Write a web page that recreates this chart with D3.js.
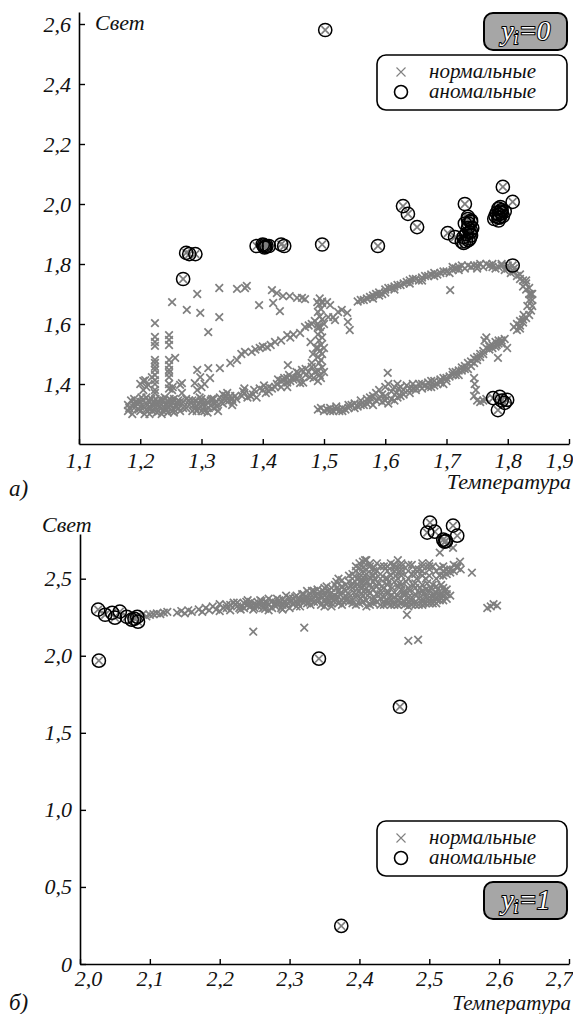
<!DOCTYPE html>
<html>
<head>
<meta charset="utf-8">
<script src="https://cdn.jsdelivr.net/npm/d3@7"></script>
<style>
  body { margin: 0; background: #fff; }
</style>
</head>
<body>
<script>
// --- panel a) : yi = 0 ---
// normal points (Температура, Свет)
const normalA = [
  // bottom-left band
  [1.18,1.33],[1.18,1.31],[1.185,1.345],[1.19,1.32],[1.19,1.35],[1.195,1.335],[1.20,1.31],[1.20,1.34],[1.205,1.325],[1.21,1.355],
  [1.21,1.315],[1.215,1.34],[1.22,1.31],[1.22,1.33],[1.225,1.35],[1.225,1.32],[1.23,1.34],[1.23,1.31],[1.235,1.33],[1.24,1.355],
  [1.24,1.32],[1.245,1.305],[1.245,1.34],[1.25,1.33],[1.255,1.315],[1.255,1.35],[1.26,1.335],[1.265,1.31],[1.27,1.34],[1.27,1.32],
  [1.275,1.35],[1.28,1.33],[1.285,1.31],[1.29,1.345],[1.29,1.32],[1.295,1.335],[1.30,1.31],[1.30,1.35],[1.305,1.325],[1.31,1.34],
  [1.31,1.305],[1.315,1.33],[1.32,1.35],[1.32,1.32],[1.325,1.34],[1.33,1.355],[1.335,1.365],[1.34,1.36],[1.345,1.345],[1.35,1.33],
  [1.35,1.35],[1.355,1.36],[1.20,1.40],[1.205,1.41],[1.21,1.39],[1.265,1.397],[1.268,1.37],[1.252,1.38],
  [1.182,1.32],[1.187,1.30],[1.192,1.34],[1.197,1.315],[1.202,1.355],[1.207,1.30],[1.212,1.33],[1.217,1.32],[1.218,1.35],[1.222,1.34],
  [1.227,1.305],[1.228,1.335],[1.232,1.325],[1.233,1.35],[1.237,1.31],[1.238,1.345],[1.242,1.33],[1.247,1.32],[1.248,1.35],[1.252,1.31],
  [1.253,1.34],[1.258,1.325],[1.262,1.345],[1.263,1.32],[1.287,1.33],[1.292,1.31],[1.297,1.355],[1.302,1.33],[1.307,1.345],[1.312,1.32],
  [1.317,1.35],[1.322,1.335],[1.327,1.31],[1.332,1.34],[1.337,1.35],[1.342,1.37],[1.347,1.36],[1.352,1.34],[1.357,1.35],[1.215,1.30],
  [1.235,1.30],[1.20,1.325],[1.28,1.345],[1.30,1.34],[1.25,1.345],[1.213,1.345],[1.243,1.315],[1.223,1.315],
  [1.19,1.33],[1.205,1.345],[1.215,1.315],[1.225,1.335],[1.235,1.345],[1.245,1.325],[1.255,1.305],[1.265,1.34],[1.275,1.32],[1.285,1.345],
  [1.295,1.32],[1.305,1.31],[1.315,1.345],[1.325,1.325],[1.335,1.335],[1.34,1.345],
  // left columns
  [1.224,1.603],[1.224,1.557],[1.224,1.54],[1.224,1.527],[1.224,1.48],[1.224,1.47],[1.224,1.457],[1.224,1.447],[1.224,1.43],[1.224,1.413],
  [1.224,1.40],[1.224,1.38],[1.224,1.37],
  [1.247,1.563],[1.247,1.547],[1.247,1.53],[1.247,1.48],[1.247,1.463],[1.247,1.447],[1.247,1.437],[1.247,1.423],[1.247,1.40],[1.247,1.385],
  [1.257,1.487],[1.253,1.39],[1.268,1.403],[1.208,1.413],[1.213,1.397],[1.205,1.38],[1.219,1.423],
  [1.293,1.447],[1.298,1.423],[1.311,1.453],[1.314,1.42],[1.289,1.403],[1.293,1.38],[1.30,1.39],[1.305,1.40],
  // scattered upper points
  [1.252,1.673],[1.293,1.70],[1.276,1.647],[1.298,1.637],[1.311,1.573],[1.329,1.72],[1.329,1.623],[1.358,1.717],[1.371,1.72],[1.374,1.727],
  [1.394,1.663],[1.415,1.713],[1.423,1.703],[1.417,1.67],[1.428,1.643],[1.433,1.693],[1.444,1.693],[1.456,1.687],[1.464,1.687],[1.469,1.683],
  [1.489,1.673],[1.497,1.67],
  // middle diagonal
  [1.33,1.453],[1.347,1.47],[1.358,1.48],[1.365,1.50],[1.371,1.507],[1.382,1.507],[1.388,1.515],[1.395,1.52],[1.40,1.525],[1.407,1.523],
  [1.413,1.53],[1.42,1.54],[1.43,1.545],[1.44,1.563],[1.445,1.555],[1.45,1.565],[1.461,1.57],[1.469,1.59],[1.475,1.595],[1.48,1.60],
  [1.485,1.61],[1.49,1.59],
  // lower rising line
  [1.366,1.36],[1.368,1.375],[1.37,1.385],[1.375,1.355],[1.384,1.365],[1.386,1.38],[1.39,1.355],[1.40,1.38],[1.402,1.395],[1.405,1.37],
  [1.41,1.39],[1.415,1.385],[1.423,1.40],[1.425,1.415],[1.43,1.39],[1.435,1.42],[1.44,1.405],[1.443,1.43],[1.45,1.415],[1.455,1.44],
  [1.46,1.425],[1.464,1.447],[1.47,1.43],[1.47,1.45],[1.475,1.44],[1.48,1.457],[1.477,1.423],[1.466,1.405],[1.433,1.413],[1.441,1.463],
  [1.449,1.423],[1.458,1.437],[1.461,1.403],[1.44,1.39],
  [1.37,1.37],[1.38,1.36],[1.395,1.385],[1.41,1.375],[1.42,1.39],[1.43,1.41],[1.44,1.42],[1.445,1.41],[1.455,1.42],
  // vertical column near 1.49
  [1.49,1.41],[1.495,1.42],[1.493,1.43],[1.49,1.445],[1.497,1.455],[1.492,1.47],[1.495,1.48],[1.49,1.49],[1.497,1.50],[1.493,1.51],
  [1.49,1.52],[1.495,1.53],[1.492,1.545],[1.497,1.555],[1.49,1.565],[1.495,1.575],[1.493,1.59],[1.49,1.60],[1.497,1.615],[1.493,1.625],
  [1.49,1.64],[1.495,1.65],[1.492,1.665],[1.497,1.675],[1.493,1.685],[1.50,1.44],[1.50,1.52],[1.50,1.60],
  [1.478,1.54],[1.482,1.50],[1.48,1.47],[1.485,1.44],[1.483,1.42],[1.487,1.52],
  [1.505,1.673],[1.51,1.663],[1.515,1.623],[1.523,1.64],[1.529,1.647],[1.538,1.637],[1.539,1.607],[1.542,1.58],[1.507,1.623],[1.518,1.613],
  // lower band of loop
  [1.49,1.315],[1.495,1.32],[1.50,1.31],[1.505,1.315],[1.51,1.32],[1.515,1.31],[1.52,1.315],[1.525,1.31],[1.53,1.32],[1.535,1.315],
  [1.54,1.32],[1.545,1.33],[1.55,1.335],[1.555,1.325],[1.56,1.345],[1.565,1.33],[1.57,1.35],[1.575,1.34],[1.58,1.36],[1.58,1.33],
  [1.585,1.37],[1.59,1.35],[1.59,1.38],[1.595,1.34],[1.60,1.39],[1.60,1.36],[1.605,1.40],[1.605,1.335],[1.61,1.35],[1.604,1.437],
  [1.615,1.345],[1.618,1.37],[1.62,1.40],[1.622,1.385],[1.625,1.36],[1.63,1.38],[1.635,1.395],[1.64,1.37],[1.645,1.385],
  [1.65,1.39],[1.655,1.40],[1.66,1.385],[1.665,1.395],[1.67,1.405],[1.675,1.39],[1.68,1.41],[1.685,1.40],[1.69,1.415],[1.695,1.42],
  [1.70,1.41],[1.705,1.425],
  [1.71,1.43],[1.715,1.44],[1.72,1.445],[1.725,1.455],[1.73,1.46],[1.735,1.47],[1.74,1.475],[1.745,1.485],[1.75,1.49],[1.755,1.50],
  [1.72,1.43],[1.74,1.46],[1.735,1.45],
  [1.76,1.51],[1.765,1.52],[1.77,1.525],[1.775,1.53],[1.78,1.54],[1.785,1.535],[1.79,1.545],[1.795,1.55],[1.762,1.545],[1.765,1.555],
  [1.78,1.525],[1.782,1.53],[1.799,1.52],[1.784,1.487],
  [1.745,1.42],[1.746,1.40],[1.748,1.38],[1.745,1.36],[1.75,1.345],[1.755,1.34],[1.76,1.345],[1.765,1.35],
  [1.51,1.31],[1.52,1.325],[1.53,1.31],[1.54,1.33],[1.55,1.32],[1.56,1.33],[1.57,1.335],[1.575,1.355],[1.585,1.345],[1.595,1.365],
  [1.60,1.345],[1.61,1.375],[1.615,1.39],[1.62,1.355],[1.625,1.39],[1.63,1.365],[1.64,1.385],[1.645,1.40],[1.65,1.38],[1.66,1.40],
  [1.67,1.39],[1.675,1.41],[1.68,1.395],[1.69,1.405],[1.695,1.40],[1.70,1.42],[1.71,1.44],[1.715,1.43],[1.725,1.445],[1.73,1.45],
  [1.745,1.47],[1.75,1.48],[1.755,1.49],[1.76,1.50],[1.77,1.515],[1.775,1.52],[1.785,1.545],[1.79,1.535],
  // upper band of loop
  [1.555,1.675],[1.56,1.68],[1.57,1.685],[1.575,1.69],[1.58,1.695],[1.585,1.70],[1.59,1.705],[1.595,1.70],[1.60,1.715],[1.605,1.72],
  [1.61,1.72],[1.615,1.725],[1.62,1.73],[1.63,1.735],[1.635,1.74],[1.64,1.745],[1.65,1.75],[1.655,1.745],[1.66,1.755],[1.67,1.76],
  [1.675,1.765],[1.68,1.76],[1.69,1.77],[1.70,1.775],[1.706,1.713],
  [1.71,1.78],[1.715,1.785],[1.72,1.79],[1.73,1.785],[1.735,1.795],[1.74,1.79],[1.75,1.795],[1.755,1.80],[1.76,1.79],[1.77,1.795],
  [1.775,1.80],[1.78,1.785],[1.785,1.79],[1.79,1.795],[1.795,1.78],[1.80,1.785],[1.805,1.77],[1.81,1.775],
  [1.815,1.76],[1.82,1.75],[1.825,1.745],[1.83,1.735],[1.835,1.72],[1.838,1.70],[1.84,1.68],[1.84,1.66],[1.838,1.645],[1.835,1.63],
  [1.83,1.62],[1.826,1.63],[1.82,1.61],[1.815,1.60],[1.81,1.59],[1.815,1.58],[1.82,1.595],[1.825,1.605],[1.83,1.715],[1.825,1.725],
  [1.565,1.68],[1.58,1.685],[1.59,1.695],[1.60,1.705],[1.615,1.715],[1.625,1.73],[1.64,1.735],[1.645,1.75],[1.66,1.745],[1.665,1.76],
  [1.68,1.77],[1.685,1.765],[1.695,1.775],[1.705,1.77],[1.71,1.79],[1.72,1.78],[1.725,1.795],[1.745,1.795],[1.75,1.785],[1.765,1.80],
  [1.775,1.79],[1.79,1.80],[1.80,1.795],[1.81,1.785],[1.82,1.765],[1.83,1.745],[1.835,1.70],[1.835,1.68],[1.84,1.70],[1.832,1.66],
  [1.825,1.615],[1.82,1.585]
];
// anomalous points
const anomalA = [
  [1.27,1.75],[1.275,1.837],[1.28,1.833],[1.29,1.833],[1.39,1.86],[1.40,1.865],[1.403,1.855],[1.402,1.862],[1.404,1.858],[1.406,1.86],
  [1.41,1.86],[1.43,1.865],[1.435,1.86],[1.497,1.865],[1.588,1.86],[1.502,2.58],[1.629,1.993],[1.637,1.967],[1.652,1.923],[1.702,1.903],
  [1.714,1.89],[1.73,2.0],[1.735,1.957],[1.73,1.935],[1.735,1.92],[1.74,1.91],[1.732,1.90],[1.738,1.885],[1.728,1.89],[1.74,1.94],
  [1.728,1.87],[1.732,1.875],[1.736,1.88],[1.74,1.895],[1.738,1.905],[1.742,1.92],[1.736,1.935],[1.74,1.945],[1.735,1.95],[1.725,1.875],
  [1.792,2.057],[1.808,2.007],[1.78,1.96],[1.785,1.965],[1.788,1.975],[1.79,1.98],[1.785,1.955],[1.782,1.97],[1.778,1.95],[1.785,1.985],
  [1.788,1.99],[1.79,1.97],[1.792,1.96],[1.785,1.945],[1.795,1.975],[1.787,1.955],
  [1.808,1.795],[1.776,1.353],[1.787,1.357],[1.799,1.347],[1.784,1.313],[1.795,1.337],[1.79,1.345]
];

// --- panel б) : yi = 1 ---
const normalB = [
  [2.09,2.27],[2.095,2.255],[2.10,2.265],[2.105,2.27],[2.11,2.275],[2.115,2.27],[2.12,2.28],[2.125,2.285],[2.139,2.28],[2.145,2.29],
  [2.15,2.275],[2.155,2.295],[2.16,2.285],
  [2.17,2.30],[2.175,2.285],[2.18,2.31],[2.185,2.295],[2.19,2.32],[2.195,2.30],[2.20,2.335],[2.20,2.29],
  [2.205,2.31],[2.21,2.33],[2.215,2.295],[2.22,2.345],[2.225,2.32],[2.23,2.30],[2.235,2.34],[2.24,2.36],[2.245,2.325],[2.248,2.30],
  [2.25,2.34],[2.255,2.32],[2.26,2.355],[2.265,2.33],[2.27,2.37],[2.275,2.31],[2.28,2.345],[2.285,2.36],[2.29,2.33],[2.295,2.39],
  [2.30,2.35],[2.305,2.37],[2.31,2.32],[2.27,2.295],[2.29,2.30],
  [2.315,2.36],[2.32,2.40],[2.325,2.34],[2.33,2.38],[2.335,2.42],[2.34,2.35],[2.345,2.39],[2.35,2.44],[2.355,2.37],[2.36,2.41],
  [2.365,2.46],[2.37,2.34],[2.37,2.50],[2.33,2.33],[2.35,2.32],[2.36,2.38],
  [2.375,2.45],[2.38,2.39],[2.385,2.48],[2.39,2.36],[2.395,2.55],[2.398,2.50],[2.40,2.60],[2.40,2.45],[2.403,2.40],[2.405,2.57],
  [2.405,2.35],[2.408,2.62],[2.408,2.52],[2.41,2.47],[2.41,2.32],[2.415,2.58],[2.42,2.43],[2.42,2.36],[2.425,2.55],[2.43,2.40],
  [2.43,2.33],
  [2.435,2.35],[2.44,2.42],[2.44,2.58],[2.445,2.33],[2.45,2.38],[2.45,2.55],[2.455,2.45],[2.46,2.34],[2.46,2.52],[2.465,2.40],
  [2.47,2.32],[2.47,2.59],[2.475,2.36],[2.48,2.47],[2.48,2.33],[2.485,2.56],[2.49,2.35],[2.49,2.42],[2.495,2.50],[2.50,2.34],
  [2.50,2.58],[2.505,2.38],[2.51,2.45],[2.515,2.36],[2.52,2.52],[2.52,2.39],[2.525,2.43],[2.468,2.266],
  [2.32,2.37],[2.33,2.36],[2.34,2.40],[2.35,2.36],[2.355,2.42],[2.36,2.34],[2.365,2.39],[2.375,2.36],[2.38,2.42],[2.385,2.35],
  [2.39,2.44],[2.39,2.50],[2.395,2.40],[2.395,2.33],[2.40,2.53],[2.402,2.37],[2.405,2.48],[2.408,2.43],[2.41,2.56],[2.412,2.39],
  [2.415,2.51],[2.42,2.48],[2.42,2.34],[2.425,2.40],[2.43,2.37],[2.435,2.44],[2.44,2.36],[2.44,2.50],[2.445,2.39],[2.45,2.33],
  [2.45,2.48],[2.455,2.36],[2.46,2.43],[2.465,2.35],[2.47,2.38],[2.47,2.50],[2.475,2.33],[2.48,2.40],[2.48,2.56],[2.485,2.37],
  [2.49,2.33],[2.49,2.52],[2.495,2.38],[2.50,2.36],[2.50,2.42],[2.505,2.34],[2.51,2.37],[2.515,2.40],[2.47,2.55],[2.44,2.55],
  [2.415,2.60],[2.445,2.60],[2.46,2.58],
  [2.21,2.31],[2.215,2.33],[2.225,2.345],[2.23,2.32],[2.235,2.31],[2.24,2.33],[2.245,2.35],[2.25,2.31],[2.255,2.345],[2.26,2.325],
  [2.265,2.35],[2.265,2.305],[2.27,2.33],[2.275,2.355],[2.28,2.32],[2.285,2.34],[2.29,2.365],[2.295,2.325],[2.30,2.375],[2.30,2.31],
  [2.305,2.34],[2.31,2.39],[2.31,2.35],[2.315,2.32],[2.32,2.345],[2.325,2.38],[2.325,2.42],[2.33,2.40],[2.335,2.35],[2.34,2.37],
  [2.34,2.43],[2.345,2.33],[2.35,2.39],[2.35,2.41],[2.355,2.35],[2.36,2.44],[2.36,2.32],[2.365,2.37],[2.37,2.42],[2.37,2.38],
  [2.375,2.33],[2.375,2.49],[2.38,2.36],[2.38,2.46],[2.385,2.40],[2.385,2.52],[2.39,2.34],[2.39,2.47],[2.395,2.38],[2.395,2.58],
  [2.40,2.34],[2.40,2.42],[2.40,2.51],[2.405,2.39],[2.405,2.61],[2.41,2.36],[2.41,2.44],[2.41,2.53],[2.415,2.33],[2.415,2.41],
  [2.415,2.46],[2.42,2.38],[2.42,2.52],[2.42,2.57],[2.425,2.35],[2.425,2.45],[2.43,2.42],[2.43,2.50],[2.43,2.58],[2.435,2.33],
  [2.435,2.38],[2.44,2.34],[2.44,2.40],[2.44,2.46],[2.445,2.36],[2.445,2.52],[2.45,2.35],[2.45,2.41],[2.45,2.59],[2.455,2.33],
  [2.455,2.39],[2.455,2.50],[2.46,2.37],[2.46,2.46],[2.46,2.56],[2.465,2.33],[2.465,2.42],[2.47,2.35],[2.47,2.44],[2.475,2.38],
  [2.475,2.53],[2.48,2.35],[2.48,2.44],[2.485,2.33],[2.485,2.41],[2.49,2.37],[2.49,2.46],[2.49,2.58],[2.495,2.34],[2.495,2.43],
  [2.50,2.38],[2.50,2.52],[2.505,2.36],[2.505,2.46],[2.51,2.34],[2.51,2.41],[2.515,2.38],[2.52,2.36],[2.52,2.44],[2.525,2.40],
  [2.525,2.37],[2.53,2.39],[2.505,2.58],[2.515,2.52],[2.525,2.56],[2.53,2.54],[2.535,2.55],[2.54,2.58],[2.545,2.56],[2.52,2.55],
  [2.50,2.56],[2.49,2.60],[2.475,2.59],[2.46,2.60],[2.435,2.58],[2.425,2.60],[2.40,2.57],[2.41,2.62],[2.455,2.62],
  [2.372,2.40],[2.378,2.43],[2.383,2.37],[2.388,2.45],[2.392,2.41],[2.397,2.46],[2.402,2.44],[2.407,2.50],[2.412,2.48],[2.417,2.44],
  [2.422,2.50],[2.427,2.47],[2.432,2.45],[2.437,2.50],[2.442,2.48],[2.447,2.44],[2.452,2.52],[2.457,2.47],[2.462,2.40],[2.467,2.48],
  [2.472,2.42],[2.477,2.46],[2.482,2.50],[2.487,2.44],[2.492,2.40],[2.497,2.47],[2.502,2.44],[2.507,2.40],[2.512,2.43],[2.517,2.46],
  [2.522,2.42],[2.39,2.53],[2.43,2.53],[2.46,2.54],[2.49,2.55],[2.42,2.55],[2.45,2.57],[2.48,2.53],[2.51,2.50],[2.40,2.48],
  [2.222,2.33],[2.228,2.31],[2.238,2.35],[2.243,2.315],[2.252,2.33],[2.258,2.36],[2.262,2.31],[2.268,2.345],[2.278,2.335],[2.282,2.37],
  [2.288,2.31],[2.292,2.35],[2.298,2.34],[2.302,2.36],[2.308,2.38],[2.312,2.34],[2.318,2.40],[2.322,2.36],[2.328,2.35],[2.332,2.42],
  [2.338,2.39],[2.342,2.36],[2.348,2.42],[2.352,2.34],[2.358,2.40],[2.362,2.36],[2.368,2.44],[2.372,2.35],[2.353,2.45],[2.367,2.48],
  [2.50,2.60],[2.51,2.55],[2.515,2.57],[2.52,2.58],[2.525,2.53],[2.53,2.56],[2.535,2.59],[2.54,2.57],[2.544,2.61],[2.515,2.669],
  [2.525,2.72],[2.534,2.70],
  [2.561,2.539],[2.583,2.31],[2.588,2.32],[2.592,2.335],[2.597,2.325],[2.248,2.156],[2.321,2.182],[2.47,2.097],[2.484,2.104]
];
const anomalB = [
  [2.026,2.299],[2.036,2.266],[2.046,2.279],[2.05,2.247],[2.057,2.286],[2.067,2.253],[2.074,2.234],[2.082,2.253],[2.083,2.221],[2.078,2.24],
  [2.027,1.968],[2.342,1.981],[2.458,1.669],[2.374,0.247],
  [2.501,2.864],[2.497,2.799],[2.508,2.805],[2.534,2.844],[2.54,2.779],[2.522,2.740],[2.52,2.753],[2.524,2.745]
];

// axis ticks and labels
const ticksAX = [1.1, 1.2, 1.3, 1.4, 1.5, 1.6, 1.7, 1.8, 1.9];
const labelsAX = ["1,1", "1,2", "1,3", "1,4", "1,5", "1,6", "1,7", "1,8", "1,9"];
const ticksAY = [1.4, 1.6, 1.8, 2.0, 2.2, 2.4, 2.6];
const labelsAY = ["1,4", "1,6", "1,8", "2,0", "2,2", "2,4", "2,6"];
const ticksBX = [2.0, 2.1, 2.2, 2.3, 2.4, 2.5, 2.6, 2.7];
const labelsBX = ["2,0", "2,1", "2,2", "2,3", "2,4", "2,5", "2,6", "2,7"];
const ticksBY = [0, 0.5, 1.0, 1.5, 2.0, 2.5];
const labelsBY = ["0", "0,5", "1,0", "1,5", "2,0", "2,5"];
const legendNames = ["нормальные", "аномальные"];

const FONT = '"Liberation Serif", "Times New Roman", Tinos, "DejaVu Serif", serif';

const svg = d3.select("body").append("svg")
  .attr("width", 573)
  .attr("height", 1014)
  .attr("font-family", FONT)
  .attr("font-style", "italic");

// x mark as a path
const cross = s => `M${-s},${-s}L${s},${s}M${-s},${s}L${s},${-s}`;

function drawPanel(p) {
  const x = d3.scaleLinear().domain(p.xDomain).range(p.xRange);
  const y = d3.scaleLinear().domain(p.yDomain).range(p.yRange);
  const g = svg.append("g");

  // normal points (anomalies also get their x)
  g.append("g").selectAll("path")
    .data(p.normal.concat(p.anomal))
    .enter().append("path")
      .attr("d", cross(3.8))
      .attr("transform", d => `translate(${x(d[0])},${y(d[1])})`)
      .attr("stroke", "#7f7f7f")
      .attr("stroke-width", 1.7)
      .attr("fill", "none");

  // anomalies - circles
  g.append("g").selectAll("circle")
    .data(p.anomal)
    .enter().append("circle")
      .attr("cx", d => x(d[0]))
      .attr("cy", d => y(d[1]))
      .attr("r", 6.6)
      .attr("fill", "none")
      .attr("stroke", "#000")
      .attr("stroke-width", 1.5);

  // axes (ticks inside)
  const xAxis = d3.axisBottom(x).tickValues(p.xTicks)
    .tickFormat((d, i) => p.xLabels[i]).tickSizeInner(-5).tickSizeOuter(0).tickPadding(p.xPad);
  const yAxis = d3.axisLeft(y).tickValues(p.yTicks)
    .tickFormat((d, i) => p.yLabels[i]).tickSizeInner(-6).tickSizeOuter(0).tickPadding(8);

  const gx = g.append("g").attr("transform", `translate(0,${p.yRange[0]})`).call(xAxis);
  const gy = g.append("g").attr("transform", `translate(${p.xRange[0]},0)`).call(yAxis);
  [gx, gy].forEach(a => {
    a.attr("font-family", FONT).attr("font-size", 22);
    a.select(".domain").attr("stroke", "#000").attr("stroke-width", 1.6);
    a.selectAll(".tick line").attr("stroke", "#000").attr("stroke-width", 1.4);
    a.selectAll(".tick text").attr("fill", "#111");
  });
  gx.selectAll(".tick text").attr("dy", "0.72em")
    .attr("dx", (d, i) => i === 0 ? (p.firstXShift || 0) : (i === p.xTicks.length - 1 ? -10 : 0));

  // axis names
  g.append("text").attr("x", p.yName[0]).attr("y", p.yName[1]).attr("font-size", 22).attr("fill", "#111").text("Свет");
  g.append("text").attr("x", 571).attr("y", p.xName).attr("text-anchor", "end").attr("font-size", p.xNameSize).attr("fill", "#111").text("Температура");
  g.append("text").attr("x", 9).attr("y", p.tag[1]).attr("font-size", 23).attr("fill", "#111").text(p.tag[0]);

  // legend
  const lg = g.append("g").attr("transform", `translate(${p.legend[0]},${p.legend[1]})`);
  lg.append("rect").attr("width", 190).attr("height", 55).attr("rx", 9)
    .attr("fill", "#fff").attr("stroke", "#000").attr("stroke-width", 1.6);
  lg.append("path").attr("d", cross(4.5)).attr("transform", "translate(24,17)")
    .attr("stroke", "#808080").attr("stroke-width", 1.1).attr("fill", "none");
  lg.append("circle").attr("cx", 24).attr("cy", 37).attr("r", 6.5)
    .attr("fill", "none").attr("stroke", "#000").attr("stroke-width", 1.6);
  lg.selectAll("text.lgt").data(legendNames).enter().append("text")
    .attr("x", 52).attr("y", (d, i) => 23 + i * 20)
    .attr("font-size", 21).attr("fill", "#111").text(d => d);

  // yi badge
  const bg = g.append("g").attr("transform", `translate(${p.badge[0]},${p.badge[1]})`);
  bg.append("rect").attr("width", 83).attr("height", 37).attr("rx", 9)
    .attr("fill", "#a6a6a6").attr("stroke", "#000").attr("stroke-width", 2);
  const bt = bg.append("text").attr("x", 42).attr("y", 27).attr("text-anchor", "middle")
    .attr("font-size", 27).attr("fill", "#fff").attr("stroke", "#000").attr("stroke-width", 2)
    .attr("paint-order", "stroke");
  bt.append("tspan").text("y");
  bt.append("tspan").attr("font-size", 18).attr("dy", 4).text("i");
  bt.append("tspan").attr("dy", -4).text("=" + p.badgeValue);
}

// panel a)
drawPanel({
  normal: normalA, anomal: anomalA,
  xDomain: [1.1, 1.9], xRange: [79, 569],
  yDomain: [1.2, 2.64], yRange: [444, 12],
  xTicks: ticksAX, xLabels: labelsAX, yTicks: ticksAY, yLabels: labelsAY, xPad: 8,
  yName: [95, 30], xName: 489, xNameSize: 22, tag: ["а)", 496],
  legend: [377, 55], badge: [484, 13], badgeValue: "0"
});

// panel б)
drawPanel({
  normal: normalB, anomal: anomalB,
  xDomain: [2.0, 2.7], xRange: [80, 569],
  yDomain: [0, 2.79], yRange: [964, 534],
  xTicks: ticksBX, xLabels: labelsBX, yTicks: ticksBY, yLabels: labelsBY, xPad: 6,
  yName: [42, 532], xName: 1010, xNameSize: 21, tag: ["б)", 1010],
  legend: [377, 821], badge: [484, 882], badgeValue: "1", firstXShift: 8
});
</script>
</body>
</html>
